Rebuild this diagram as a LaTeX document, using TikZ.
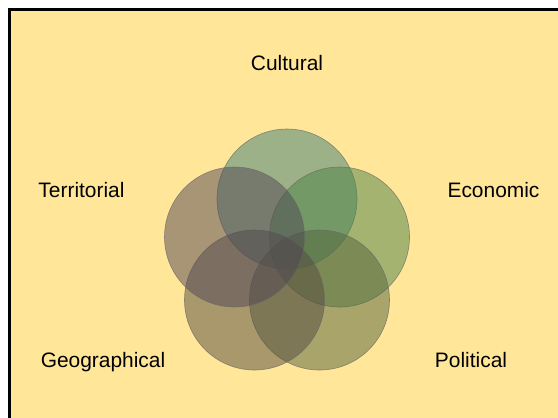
\documentclass[tikz,border=0pt]{standalone}
\usepackage{fontspec}
\setmainfont{Liberation Sans}
\usepackage{xcolor}
\usepackage{tikz}
\usetikzlibrary{positioning}

\definecolor{slidebg}{RGB}{255,230,153}
\definecolor{cultcol}{RGB}{60,125,120}
\definecolor{econcol}{RGB}{75,130,70}
\definecolor{policol}{RGB}{85,100,60}
\definecolor{geogcol}{RGB}{85,75,65}
\definecolor{terrcol}{RGB}{80,70,85}

\begin{document}
\begin{tikzpicture}[
    x=1bp, y=-1bp,
    ring/.style={
        circle,
        draw=black!60,
        draw opacity=0.7,
        line width=0.6pt,
        fill opacity=0.5,
        minimum size=140bp,
        inner sep=0pt
    },
    label/.style={
        font=\fontsize{21}{25}\selectfont,
        text=black,
        anchor=base,
        inner sep=0pt
    }
]
    \useasboundingbox (0,0) rectangle (558,417);
    \clip (0,0) rectangle (558,417);

    % Slide background
    \fill[white] (0,0) rectangle (558,417);
    \draw[fill=slidebg, line width=2.5bp] (9.5,9.5) rectangle (580,440);

    % Circles
    \node[ring, fill=cultcol] (cult) at (287,199) {};
    \node[ring, fill=econcol] (econ) at (339.5,237) {};
    \node[ring, fill=policol] (poli) at (319.5,300) {};
    \node[ring, fill=geogcol] (geog) at (254.5,300) {};
    \node[ring, fill=terrcol] (terr) at (234.5,237) {};

    % Labels
    \node[label] (cultlbl) at (287,70) {Cultural};
    \node[label] (econlbl) at (493.5,197) {Economic};
    \node[label] (polilbl) at (471,367) {Political};
    \node[label] (geoglbl) at (103,367) {Geographical};
    \node[label] (terrlbl) at (81.5,197) {Territorial};
\end{tikzpicture}
\end{document}
